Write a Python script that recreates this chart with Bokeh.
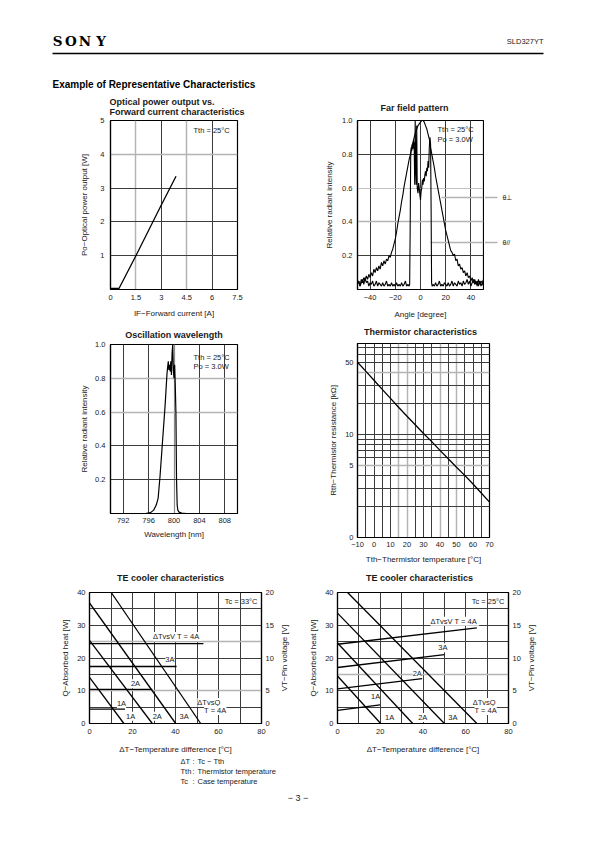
import math
from bokeh.plotting import figure
from bokeh.models import Range1d, LinearAxis, FixedTicker, Label, Grid
from bokeh.layouts import column, row
from bokeh.core.properties import value
from bokeh.embed import file_html
from bokeh.resources import INLINE

SANS = "'Liberation Sans', Arial, Helvetica, sans-serif"
INK = "#1a1a1a"
DARK = "#3c3c3c"
LIGHT = "#b4b4b4"

# ---------------- data ----------------
# Optical power output vs forward current
PI_CURRENT = [0.0, 0.5, 1.5, 3.0, 3.87]
PI_POWER = [0.03, 0.03, 1.0, 2.5, 3.35]
PI_X_TICKS = [0, 1.5, 3, 4.5, 6, 7.5]
PI_X_LABELS = ["0", "1.5", "3", "4.5", "6", "7.5"]
PI_Y_TICKS = [1, 2, 3, 4, 5]
PI_Y_LABELS = ["1", "2", "3", "4", "5"]

# Far field pattern, theta perpendicular (broad)
FF_PERP_ANGLE = [-50, -49, -48, -47, -46, -45, -44, -43, -42, -41,
                 -40, -39, -38, -37, -36, -35, -34, -33, -32, -31,
                 -30, -29, -28, -27, -26, -25, -24, -23, -22, -21,
                 -20, -19, -18, -17, -16, -15, -14, -13, -12, -11,
                 -10, -9, -8, -7, -6, -5, -4, -3, -2, -1,
                 0, 1, 2, 3, 4, 5, 6, 7, 8, 9,
                 10, 11, 12, 13, 14, 15, 16, 17, 18, 19,
                 20, 21, 22, 23, 24, 25, 26, 27, 28, 29,
                 30, 31, 32, 33, 34, 35, 36, 37, 38, 39,
                 40, 41, 42, 43, 44, 45, 46, 47, 48, 49, 50]
FF_PERP = [0.03, 0.05, 0.02, 0.06, 0.04, 0.07, 0.05, 0.08, 0.06, 0.09,
           0.07, 0.10, 0.08, 0.12, 0.10, 0.13, 0.11, 0.14, 0.12, 0.16,
           0.14, 0.17, 0.15, 0.18, 0.17, 0.20, 0.19, 0.22, 0.24, 0.27,
           0.30, 0.34, 0.39, 0.43, 0.47, 0.52, 0.56, 0.61, 0.65, 0.69,
           0.73, 0.77, 0.80, 0.84, 0.87, 0.90, 0.93, 0.95, 0.97, 0.98,
           0.99, 1.00, 1.00, 0.99, 0.97, 0.95, 0.92, 0.89, 0.84, 0.80,
           0.76, 0.72, 0.67, 0.63, 0.59, 0.55, 0.51, 0.47, 0.43, 0.39,
           0.35, 0.32, 0.29, 0.26, 0.23, 0.22, 0.20, 0.21, 0.17, 0.18,
           0.14, 0.15, 0.12, 0.13, 0.10, 0.11, 0.08, 0.10, 0.07, 0.08,
           0.05, 0.07, 0.04, 0.06, 0.03, 0.05, 0.02, 0.05, 0.02, 0.04, 0.02]

# Far field pattern, theta parallel (narrow)
FF_PAR_ANGLE_L = [-50, -49, -48, -47, -46, -45, -44, -43, -42, -41,
                  -40, -39, -38, -37, -36, -35, -34, -33, -32, -31,
                  -30, -29, -28, -27, -26, -25, -24, -23, -22, -21,
                  -20, -19, -18, -17, -16, -15, -14, -13, -12, -11,
                  -10, -9]
FF_PAR_L = [0.03, 0.05, 0.02, 0.04, 0.06, 0.03, 0.07, 0.04, 0.05, 0.02,
            0.04, 0.03, 0.05, 0.02, 0.03, 0.05, 0.02, 0.04, 0.03, 0.02,
            0.04, 0.02, 0.03, 0.05, 0.02, 0.03, 0.02, 0.04, 0.02, 0.03,
            0.02, 0.04, 0.02, 0.03, 0.02, 0.04, 0.02, 0.03, 0.05, 0.02,
            0.03, 0.02]
FF_PAR_ANGLE_C = [-8.6, -8.2, -7.8, -7.4, -7, -6.5, -6, -5.5, -5, -4.6,
                  -4.2, -3.8, -3.4, -3, -2.6, -2, -1.5, -1, -0.5, 0,
                  0.5, 1, 1.5, 2, 2.5, 3, 3.5, 4, 4.5, 5,
                  5.5, 6, 6.5, 7, 7.5, 8, 8.4, 8.8, 9.2]
FF_PAR_C = [0.03, 0.35, 0.78, 0.84, 0.82, 0.86, 0.83, 0.88, 0.85, 0.62,
            1.0, 0.72, 0.62, 0.97, 0.6, 0.57, 0.63, 0.6, 0.56, 0.53,
            0.58, 0.6, 0.65, 0.62, 0.66, 0.64, 0.68, 0.7, 0.67, 0.72,
            0.7, 0.76, 0.72, 0.84, 0.9, 0.86, 0.5, 0.04, 0.02]
FF_PAR_ANGLE_R = [10, 11, 12, 13, 14, 15, 16, 17, 18, 19,
                  20, 21, 22, 23, 24, 25, 26, 27, 28, 29,
                  30, 31, 32, 33, 34, 35, 36, 37, 38, 39,
                  40, 41, 42, 43, 44, 45, 46, 47, 48, 49, 50]
FF_PAR_R = [0.03, 0.02, 0.04, 0.02, 0.03, 0.05, 0.02, 0.03, 0.02, 0.04,
            0.03, 0.02, 0.04, 0.02, 0.03, 0.05, 0.02, 0.04, 0.03, 0.02,
            0.05, 0.03, 0.04, 0.02, 0.05, 0.03, 0.04, 0.06, 0.03, 0.05,
            0.02, 0.04, 0.06, 0.03, 0.05, 0.02, 0.06, 0.03, 0.05, 0.04, 0.06]
FF_X_TICKS = [-40, -20, 0, 20, 40]
FF_X_LABELS = ["\u221240", "\u221220", "0", "20", "40"]
FF_Y_TICKS = [0.2, 0.4, 0.6, 0.8, 1.0]
FF_Y_LABELS = ["0.2", "0.4", "0.6", "0.8", "1.0"]
FF_LEADER_Y = [0.544, 0.278]          # level where the curve labels point
FF_LEADER_START = [16.7, 8.0]         # angle where each leader leaves its curve
FF_LEADER_TEXT = ["\u03b8\u22a5", "\u03b8//"]

# Oscillation wavelength spectrum
OSC_WL = [790, 792, 794, 795.5, 796.3, 796.8, 797.2, 797.5, 797.8, 798.2,
          798.6, 798.9, 799.1, 799.2, 799.3, 799.4, 799.5, 799.6, 799.7, 799.8,
          799.9, 800.0, 800.1, 800.2, 800.3, 800.4, 800.5, 800.6, 800.8, 801.2,
          802, 806, 810]
OSC_INT = [0, 0, 0, 0, 0.005, 0.02, 0.05, 0.09, 0.22, 0.43,
           0.64, 0.83, 0.90, 0.85, 0.88, 0.84, 0.90, 0.82, 0.95, 1.0,
           0.85, 0.80, 0.88, 0.76, 0.6, 0.2, 0.05, 0.02, 0.008, 0.002,
           0, 0, 0]
OSC_X_TICKS = [792, 796, 800, 804, 808]
OSC_X_LABELS = ["792", "796", "800", "804", "808"]

# Thermistor characteristics
TH_TEMP = [-10, -5, 0, 5, 10, 15, 20, 25, 30, 35, 40, 45, 50, 55, 60, 65, 70]
TH_RES = [50, 41, 33.5, 27.3, 22.3, 18.2, 15.0, 12.4, 10.2, 8.5, 7.0, 5.8, 4.8, 4.0, 3.3, 2.7, 2.2]
TH_X_TICKS = [-10, 0, 10, 20, 30, 40, 50, 60, 70]
TH_X_LABELS = ["\u221210", "0", "10", "20", "30", "40", "50", "60", "70"]
TH_Y_TICKS = [1, 5, 10, 50]
TH_Y_LABELS = ["0", "5", "10", "50"]

# TE cooler, Tc = 33 degC : Q lines (W) and V lines (V)
TEL_Q_X = {"4A": [10.1, 51.7], "3A": [0, 40.1], "2A": [0, 29.2], "1A": [0, 16.0]}
TEL_Q_Y = {"4A": [40, 0], "3A": [36.8, 0], "2A": [25.4, 0], "1A": [14.1, 0]}
TEL_V_X = {"4A": [0, 53], "3A": [0, 40.5], "2A": [0, 29.2], "1A": [0, 16.5]}
TEL_V_Y = {"4A": [12.2, 12.2], "3A": [8.7, 8.7], "2A": [5.2, 5.2], "1A": [2.2, 2.2]}
# TE cooler, Tc = 25 degC
TER_Q_X = {"4A": [4.7, 65.2], "3A": [0, 50], "2A": [0, 35.2], "1A": [0, 20.2]}
TER_Q_Y = {"4A": [40, 0], "3A": [33.7, 0], "2A": [24.6, 0], "1A": [14.5, 0]}
TER_V_X = {"4A": [0, 65.2], "3A": [0, 50], "2A": [0, 39.6], "1A": [0, 19.9]}
TER_V_Y = {"4A": [12.1, 14.6], "3A": [8.55, 10.5], "2A": [5.3, 6.85], "1A": [2.0, 2.85]}
TE_X_TICKS = [0, 20, 40, 60, 80]
TE_X_LABELS = ["0", "20", "40", "60", "80"]
TE_Q_TICKS = [0, 10, 20, 30, 40]
TE_Q_LABELS = ["0", "10", "20", "30", "40"]
TE_V_TICKS = [0, 5, 10, 15, 20]
TE_V_LABELS = ["0", "5", "10", "15", "20"]


# ---------------- helpers ----------------
def bare(fig_box, x_range, y_range, borders=(0, 0, 0, 0)):
    """Axis-less figure (page furniture). borders = left, right, top, bottom."""
    fx, fy, fw, fh = fig_box
    f = figure(width=fw, height=fh, x_range=x_range, y_range=y_range,
               x_axis_location=None, y_axis_location=None, output_backend="svg",
               toolbar_location=None, min_border_left=borders[0], min_border_right=borders[1],
               min_border_top=borders[2], min_border_bottom=borders[3])
    f.outline_line_color = None
    f.background_fill_color = "white"
    f.border_fill_color = "white"
    f.grid.visible = False
    return f


def strip(fig_box):
    fx, fy, fw, fh = fig_box
    return bare(fig_box, Range1d(fx, fx + fw), Range1d(fy + fh, fy))


def new_chart(fig_box, frame, xr, yr, log_y=False):
    fx, fy, fw, fh = fig_box
    fl, ft, fr, fb = frame
    p = figure(width=fw, height=fh, x_range=Range1d(*xr), y_range=Range1d(*yr),
               y_axis_type="log" if log_y else "linear",
               output_backend="svg", toolbar_location=None,
               min_border_left=fl - fx, min_border_right=fx + fw - fr,
               min_border_top=ft - fy, min_border_bottom=fy + fh - fb)
    p.background_fill_color = "white"
    p.border_fill_color = "white"
    p.outline_line_color = "black"
    p.outline_line_width = 1.2
    p.grid.visible = False

    def dx(px):
        return xr[0] + (px - fl) / (fr - fl) * (xr[1] - xr[0])

    if log_y:
        def dy(py):
            l0, l1 = math.log10(yr[0]), math.log10(yr[1])
            return 10 ** (l0 + (fb - py) / (fb - ft) * (l1 - l0))
    else:
        def dy(py):
            return yr[0] + (fb - py) / (fb - ft) * (yr[1] - yr[0])
    return p, dx, dy


def style_axis(ax, ticks, labels, title, label_standoff, tick_standoff=5):
    ax.ticker = FixedTicker(ticks=ticks)
    ax.major_label_overrides = dict(zip(ticks, labels))
    ax.axis_label = title
    ax.axis_line_color = "black"
    ax.axis_line_width = 1.2
    ax.major_tick_in = 0
    ax.major_tick_out = 0
    ax.minor_tick_in = 0
    ax.minor_tick_out = 0
    ax.major_label_standoff = tick_standoff
    ax.major_label_text_font = SANS
    ax.major_label_text_font_size = "7.5px"
    ax.major_label_text_color = INK
    ax.axis_label_text_font = SANS
    ax.axis_label_text_font_size = "8px"
    ax.axis_label_text_font_style = "normal"
    ax.axis_label_text_color = INK
    ax.axis_label_standoff = label_standoff


def add_grid(p, dim, ticks, color, width=1.0):
    p.add_layout(Grid(dimension=dim, ticker=FixedTicker(ticks=ticks),
                      grid_line_color=color, grid_line_width=width))


def add_label(p, x, y, text, size="7.5px", bold=False, align="left", bg=None):
    lab = Label(x=x, y=y, text=text, text_font=SANS, text_font_size=size,
                text_font_style="bold" if bold else "normal", text_align=align,
                text_baseline="middle", text_color=INK)
    if bg is not None:
        lab.background_fill_color = bg
        lab.background_fill_alpha = 1.0
    p.add_layout(lab)


def put_text(f, xs, ys, texts, size="7.5px", bold=False, align="left", angle=0.0,
             font=SANS, color=INK):
    f.text(x=xs, y=ys, text=texts, text_font=value(font), text_font_size=size,
           text_font_style="bold" if bold else "normal", text_align=align,
           text_baseline="middle", text_color=color, angle=angle)


TITLE = "9px"

# ---------------- header (with first-row chart titles) ----------------
hdr = strip((0, 0, 587, 116))
put_text(hdr, [57, 70.5, 84.5, 100.5], [40.5] * 4, ["S", "O", "N", "Y"], size="13.5px",
         bold=True, align="center", font="DejaVu Serif", color="black")
put_text(hdr, [543], [40.5], ["SLD327YT"], align="right")
hdr.line(x=[52, 543], y=[53, 53], line_color="black", line_width=1.3)
put_text(hdr, [52], [84], ["Example of Representative Characteristics"], size="10px",
         bold=True, color="black")
put_text(hdr, [109, 109], [101, 111.5],
         ["Optical power output vs.", "Forward current characteristics"], size=TITLE, bold=True)
put_text(hdr, [414], [107], ["Far field pattern"], size=TITLE, bold=True, align="center")

# ---------------- chart 1: optical power ----------------
c1, c1x, c1y = new_chart((0, 116, 300, 206), (110, 120, 237, 289), (0, 7.5), (0, 5))
style_axis(c1.xaxis[0], PI_X_TICKS, PI_X_LABELS, "IF\u2212Forward current [A]", 6)
style_axis(c1.yaxis[0], PI_Y_TICKS, PI_Y_LABELS, "Po\u2212Optical power output [W]", 8, 6)
add_grid(c1, 0, [3, 6], DARK)
add_grid(c1, 0, [1.5, 4.5], LIGHT, 1.5)
add_grid(c1, 1, [1, 2, 3], DARK)
add_grid(c1, 1, [4], LIGHT, 1.5)
c1.line(PI_CURRENT, PI_POWER, line_color="black", line_width=1.3)
add_label(c1, c1x(193), c1y(130), "Tth = 25\u00b0C")

# ---------------- chart 2: far field (+ side strip for curve labels) ----------------
c2, c2x, c2y = new_chart((300, 116, 184, 206), (357, 120, 483, 289), (-50, 50), (0, 1))
style_axis(c2.xaxis[0], FF_X_TICKS, FF_X_LABELS, "Angle [degree]", 7)
style_axis(c2.yaxis[0], FF_Y_TICKS, FF_Y_LABELS, "Relative radiant intensity", 5)
add_grid(c2, 0, [-40, -20, 0, 20, 40], DARK)
add_grid(c2, 1, [0.8, 0.2], DARK)
add_grid(c2, 1, [0.4], LIGHT, 1.5)
add_grid(c2, 1, [0.6], LIGHT, 0.8)
for ly, lx in zip(FF_LEADER_Y, FF_LEADER_START):
    c2.line([lx, 50], [ly, ly], line_color=LIGHT, line_width=1.5)
c2.line(FF_PERP_ANGLE, FF_PERP, line_color="black", line_width=1.1)
c2.line(FF_PAR_ANGLE_L + FF_PAR_ANGLE_C + FF_PAR_ANGLE_R, FF_PAR_L + FF_PAR_C + FF_PAR_R,
        line_color="black", line_width=1.1)
add_label(c2, c2x(437), c2y(128.5), "Tth = 25\u00b0C")
add_label(c2, c2x(437), c2y(138.5), "Po = 3.0W")

s2 = bare((484, 116, 103, 206), Range1d(484, 587), c2.y_range, (0, 0, 4, 33))
for ly, lt in zip(FF_LEADER_Y, FF_LEADER_TEXT):
    s2.line([484, 497], [ly, ly], line_color=LIGHT, line_width=1.5)
    put_text(s2, [502], [ly], [lt], size="7px")

# ---------------- title strip, row 2 ----------------
t2 = strip((0, 322, 587, 18))
put_text(t2, [173.5, 420], [334.5, 331], ["Oscillation wavelength", "Thermistor characteristics"],
         size=TITLE, bold=True, align="center")

# ---------------- chart 3: oscillation wavelength ----------------
c3, c3x, c3y = new_chart((0, 340, 300, 226), (110, 344, 237, 513), (790, 810), (0, 1))
style_axis(c3.xaxis[0], OSC_X_TICKS, OSC_X_LABELS, "Wavelength [nm]", 4, 4)
style_axis(c3.yaxis[0], FF_Y_TICKS, FF_Y_LABELS, "Relative radiant intensity", 3)
add_grid(c3, 0, [792, 796, 804, 808], DARK)
add_grid(c3, 0, [800], "#8a8a8a", 1.2)
add_grid(c3, 1, [0.4, 0.2], DARK)
add_grid(c3, 1, [0.8], LIGHT, 1.5)
add_grid(c3, 1, [0.6], LIGHT, 1.5)
c3.line(OSC_WL, OSC_INT, line_color="black", line_width=1.2)
add_label(c3, c3x(193), c3y(356.5), "Tth = 25\u00b0C")
add_label(c3, c3x(193), c3y(366), "Po = 3.0W")

# ---------------- chart 4: thermistor ----------------
c4, c4x, c4y = new_chart((300, 340, 287, 226), (357, 343, 489, 537), (-10, 70), (1, 76), log_y=True)
style_axis(c4.xaxis[0], TH_X_TICKS, TH_X_LABELS, "Tth\u2212Thermistor temperature [\u00b0C]", 5, 4)
style_axis(c4.yaxis[0], TH_Y_TICKS, TH_Y_LABELS, "Rth\u2212Thermistor resistance [k\u03a9]", 4, 4)
add_grid(c4, 0, [-5, 0, 5, 10, 25, 30, 35, 45, 55, 60, 65], DARK)
add_grid(c4, 0, [15, 20, 40, 50], LIGHT, 1.5)
add_grid(c4, 1, [2, 3, 4, 6, 7, 8, 9, 10, 20, 30, 50, 60, 70], DARK)
add_grid(c4, 1, [5, 40], LIGHT, 1.5)
c4.line(TH_TEMP, TH_RES, line_color="black", line_width=1.3)

# ---------------- title strip, row 3 ----------------
t3 = strip((0, 566, 587, 22))
put_text(t3, [170, 419], [577, 577], ["TE cooler characteristics", "TE cooler characteristics"],
         size=TITLE, bold=True, align="center")


# ---------------- charts 5/6: TE cooler ----------------
def te_chart(fig_box, frame, qx, qy, vx, vy, tc_text, hgrid, texts):
    p, px, py = new_chart(fig_box, frame, (0, 80), (0, 40))
    p.extra_y_ranges = {"v": Range1d(0, 20)}
    style_axis(p.xaxis[0], TE_X_TICKS, TE_X_LABELS, "\u0394T\u2212Temperature difference [\u00b0C]", 8, 5)
    style_axis(p.yaxis[0], TE_Q_TICKS, TE_Q_LABELS, "Q\u2212Absorbed heat [W]", 4, 4)
    vax = LinearAxis(y_range_name="v")
    p.add_layout(vax, "right")
    style_axis(vax, TE_V_TICKS, TE_V_LABELS, "", 0, 4)
    add_grid(p, 0, [10, 20, 30, 40, 50, 60, 70], DARK)
    for color, width, ticks in hgrid:
        add_grid(p, 1, ticks, color, width)
    for k in ["4A", "3A", "2A", "1A"]:
        p.line(qx[k], qy[k], line_color="black", line_width=1.3)
        p.line(vx[k], vy[k], y_range_name="v", line_color="black", line_width=1.3)
    for (x, y, t, al) in texts:
        add_label(p, x, y, t, align=al, bg="white")
    add_label(p, px(frame[2] - 4), py(601.5), tc_text, align="right")
    return p


def v_label_strip(fig_box, y_range, x_text):
    fx, fy, fw, fh = fig_box
    s = bare(fig_box, Range1d(fx, fx + fw), y_range, (0, 0, 4, 32))
    put_text(s, [x_text], [20], ["VT\u2212Pin voltage [V]"], size="8px", align="center",
             angle=math.pi / 2)
    return s


c5 = te_chart((0, 588, 280, 168), (89, 592, 261, 724), TEL_Q_X, TEL_Q_Y, TEL_V_X, TEL_V_Y,
              "Tc = 33\u00b0C",
              [(DARK, 1.0, [5, 15, 20, 30, 35]), (LIGHT, 1.6, [10, 25])],
              [(29.5, 26.6, "\u0394TvsV  T = 4A", "left"), (37.4, 19.4, "3A", "center"),
               (21.4, 12.1, "2A", "center"), (14.9, 6.1, "1A", "center"),
               (19.1, 2.2, "1A", "center"), (31.5, 2.2, "2A", "center"),
               (44.0, 2.2, "3A", "center"), (55.5, 6.4, "\u0394TvsQ", "center"),
               (58.5, 4.0, "T = 4A", "center")])
s5 = v_label_strip((280, 588, 20, 168), c5.y_range, 284)
c6 = te_chart((300, 588, 224, 168), (337, 592, 508, 724), TER_Q_X, TER_Q_Y, TER_V_X, TER_V_Y,
              "Tc = 25\u00b0C",
              [(DARK, 1.0, [5, 10, 20, 25, 30, 35]), (LIGHT, 1.6, [15])],
              [(43.5, 31.2, "\u0394TvsV  T = 4A", "left"), (49.3, 23.1, "3A", "center"),
               (37.3, 15.4, "2A", "center"), (17.8, 8.2, "1A", "center"),
               (24.4, 1.8, "1A", "center"), (39.9, 1.8, "2A", "center"),
               (54.0, 1.8, "3A", "center"), (68.6, 6.4, "\u0394TvsQ", "center"),
               (69.3, 4.0, "T = 4A", "center")])
s6 = v_label_strip((524, 588, 63, 168), c6.y_range, 531)

# ---------------- footer ----------------
ftr = strip((0, 756, 587, 78))
put_text(ftr, [180, 180, 180, 192, 192, 192, 197, 197, 197],
         [761, 771, 780.5, 761, 771, 780.5, 761, 771, 780.5],
         ["\u0394T", "Tth", "Tc", ":", ":", ":", "Tc \u2212 Tth", "Thermistor temperature",
          "Case temperature"])
put_text(ftr, [297.5], [797], ["\u2212 3 \u2212"], size="9px", align="center")

page = column(hdr, row(c1, c2, s2), t2, row(c3, column(c4)), t3, row(c5, s5, c6, s6), ftr)
open("out.html", "w").write(file_html(page, INLINE))
